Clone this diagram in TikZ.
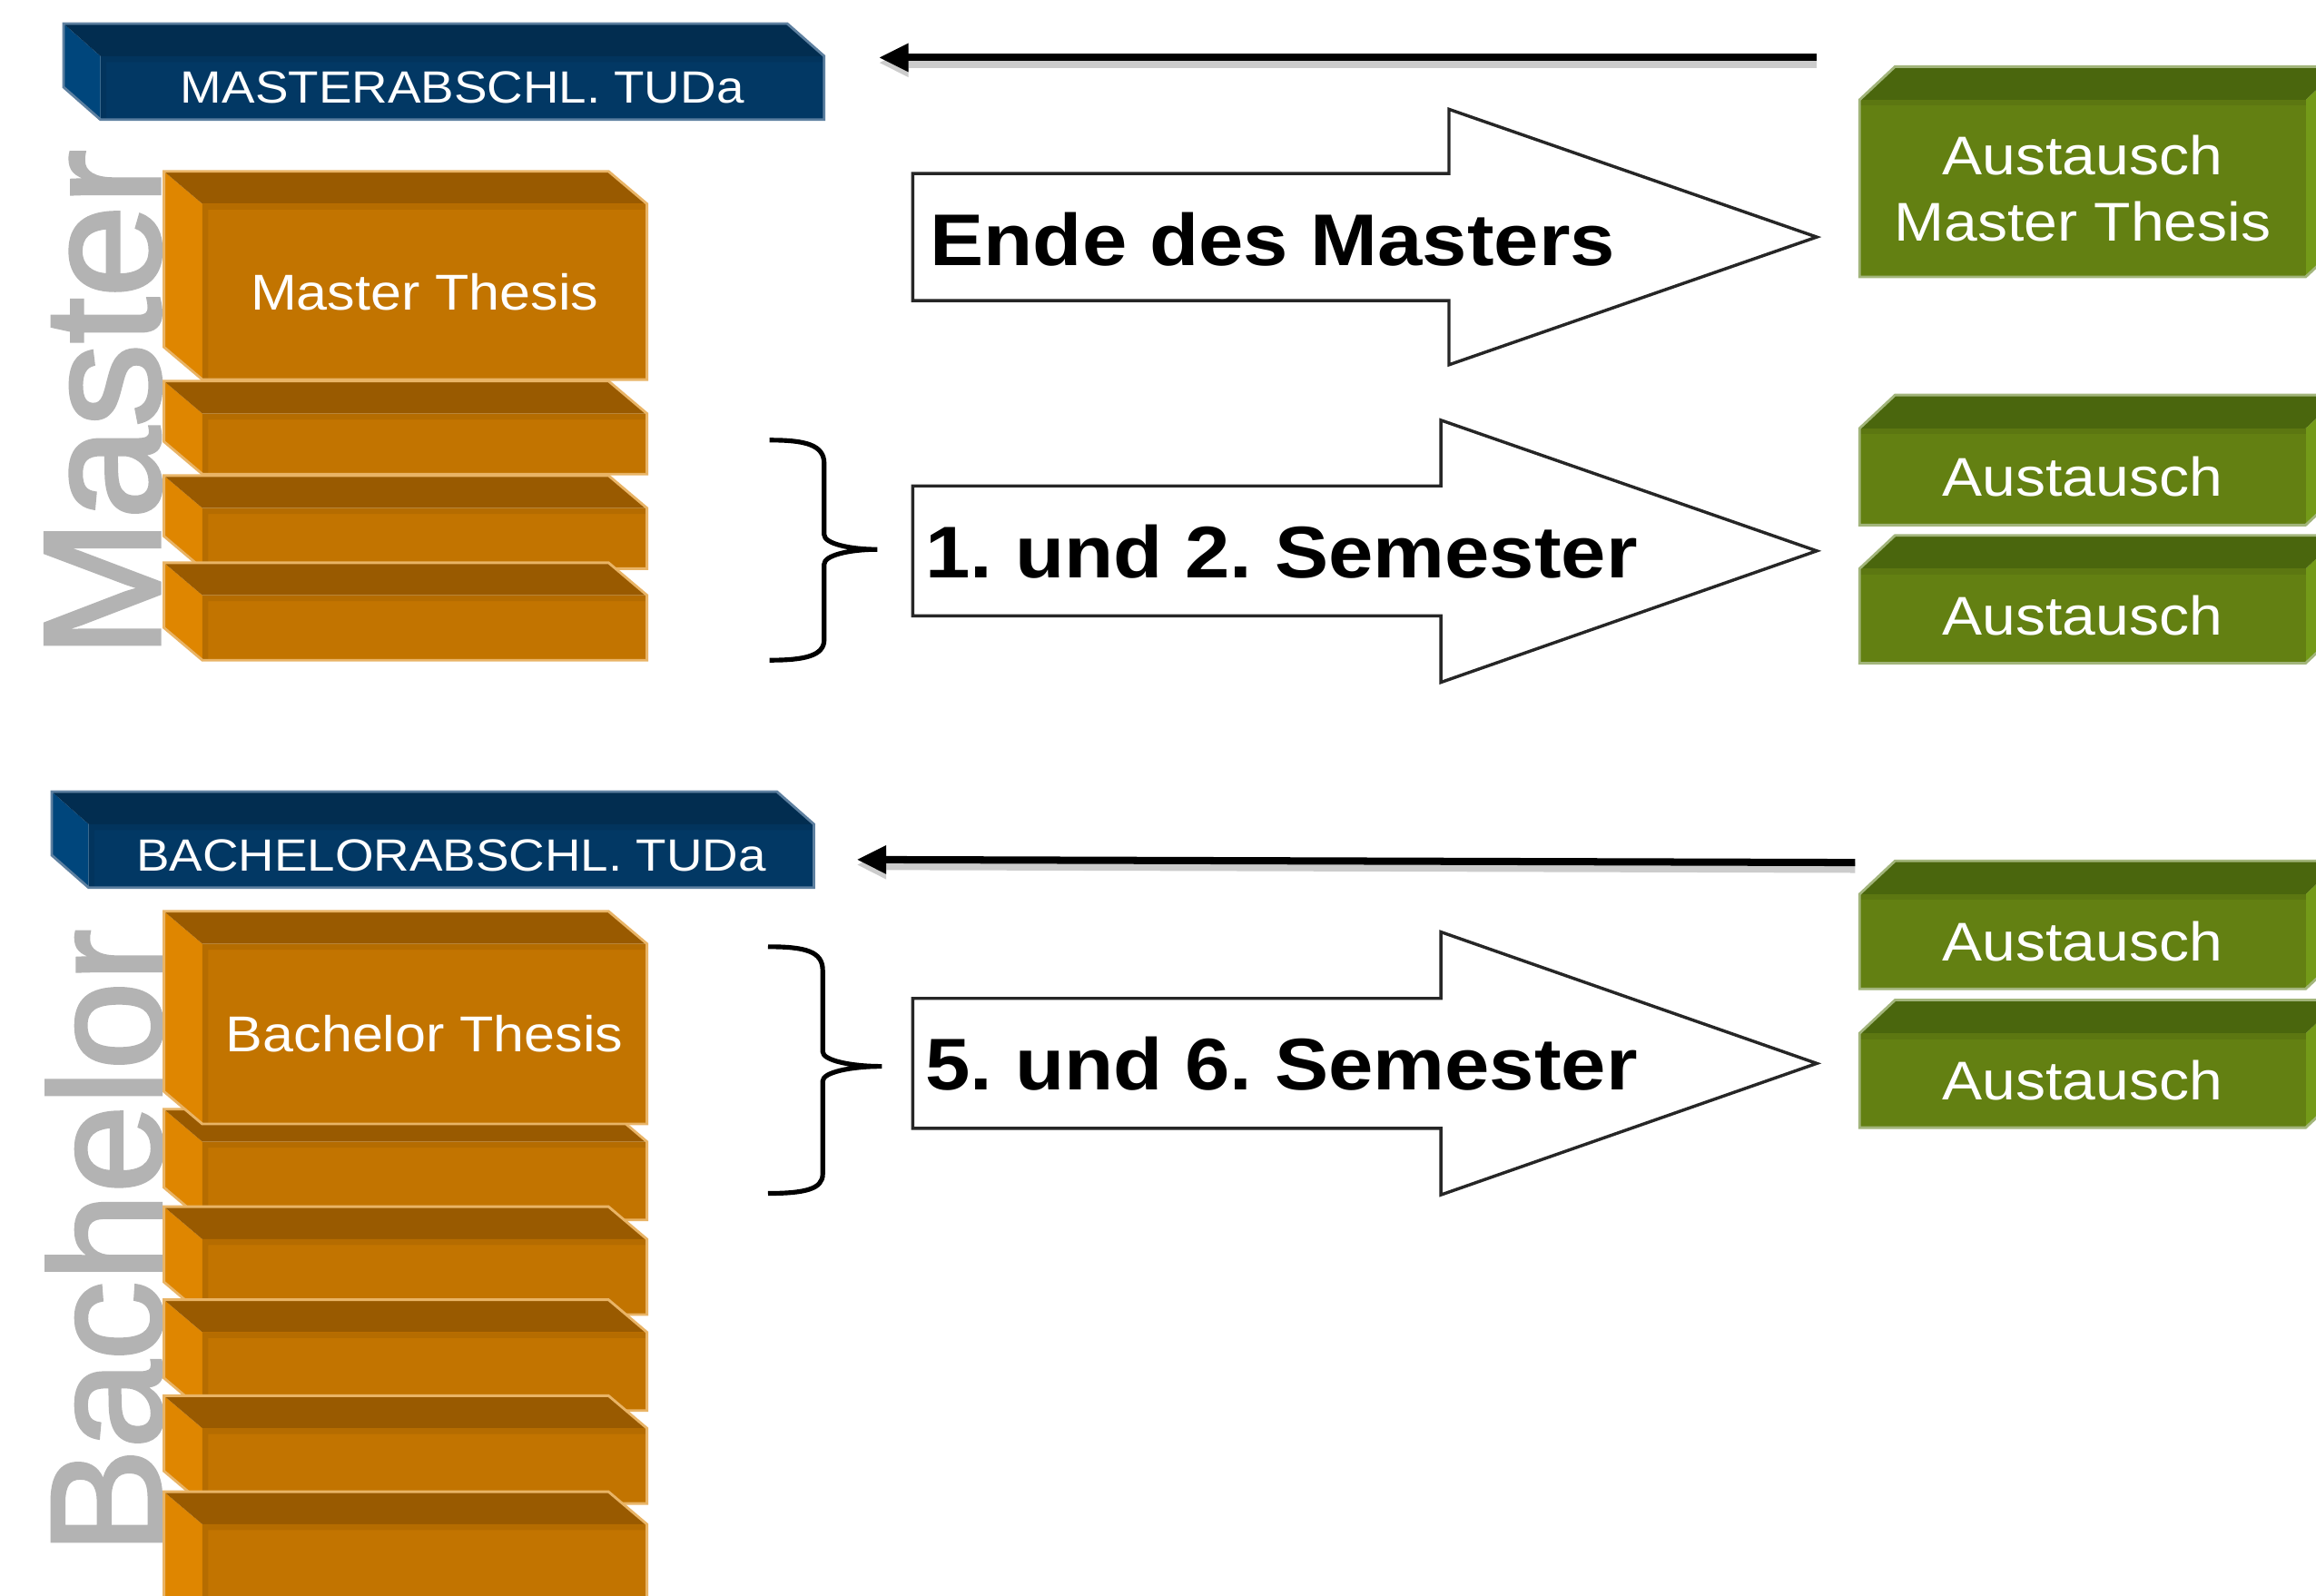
\documentclass[tikz,border=0pt]{standalone}
\usepackage{fontspec}
\setmainfont{Liberation Sans}[FakeStretch=1.1]
\newfontfamily\plainsans{Liberation Sans}[FakeBold=2]
\usetikzlibrary{arrows.meta}
\frenchspacing

\definecolor{bluefront}{HTML}{023864}
\definecolor{bluetop}{HTML}{022D50}
\definecolor{blueside}{HTML}{00467C}
\definecolor{blueedge}{HTML}{5E80A0}
\definecolor{orfront}{HTML}{C27400}
\definecolor{ortop}{HTML}{995A00}
\definecolor{orside}{HTML}{DF8600}
\definecolor{oredge}{HTML}{E9B466}
\definecolor{grfront}{HTML}{638012}
\definecolor{grtop}{HTML}{4A660D}
\definecolor{grside}{HTML}{739A18}
\definecolor{gredge}{HTML}{A2B57B}
\definecolor{labelgray}{HTML}{B3B3B3}

\begin{document}
\begin{tikzpicture}[x=0.01cm,y=-0.01cm]
    \tikzstyle{bluetext}=[text=white,inner sep=0pt,font=\fontsize{8.7}{10}\selectfont]
    \tikzstyle{ortext}=[text=white,inner sep=0pt,font=\fontsize{9.7}{11}\selectfont]
    \tikzstyle{grtext}=[text=white,inner sep=0pt,align=center,font=\fontsize{10.5}{12.6}\selectfont]
    \tikzstyle{semtext}=[anchor=base west,inner sep=0pt,font=\bfseries\fontsize{14.1}{16}\selectfont]
    \tikzstyle{biglabel}=[text=labelgray,rotate=90,anchor=base west,inner sep=0pt]
    \tikzstyle{blockarrow}=[draw=black!85,fill=white,line width=0.6pt,line join=miter]
    \tikzstyle{thinarrow}=[line width=1.4pt,-{Triangle[length=0.2cm,width=0.18cm]},
        preaction={draw=black!20,line width=2pt,transform canvas={yshift=-0.035cm}}]
    \tikzstyle{brace}=[line width=0.9pt]

    % box seen from the upper left: name, x1, y1, x2, y2 (front face), colour, text
    \def\lbox#1#2#3#4#5#6#7{%
        \fill[#6side] (#2-\dpx,#3-\dpy) -- (#2,#3) -- (#2,#5) -- (#2-\dpx,#5-\dpy) -- cycle;
        \fill[#6top] (#2-\dpx,#3-\dpy) -- (#4-\dpx,#3-\dpy) -- (#4,#3) -- (#2,#3) -- cycle;
        \fill[#6front] (#2,#3) rectangle (#4,#5);
        \fill[#6front!93!black] (#2,#3) rectangle (#4,#3+4) (#2,#3) rectangle (#2+4,#5);
        \draw[#6edge,line width=0.5pt] (#2-\dpx,#3-\dpy) -- (#4-\dpx,#3-\dpy) -- (#4,#3)
            -- (#4,#5) -- (#2,#5) -- (#2-\dpx,#5-\dpy) -- cycle;
        \node[#6text] (#1) at ({(#2+#4)/2},{(#3+#5)/2}) {#7};
    }
    % box seen from the upper right
    \def\rbox#1#2#3#4#5#6#7{%
        \fill[#6side] (#4,#3) -- (#4+\dpx,#3-\dpy) -- (#4+\dpx,#5-\dpy) -- (#4,#5) -- cycle;
        \fill[#6top] (#2,#3) -- (#2+\dpx,#3-\dpy) -- (#4+\dpx,#3-\dpy) -- (#4,#3) -- cycle;
        \fill[#6front] (#2,#3) rectangle (#4,#5);
        \fill[#6front!93!black] (#2,#3) rectangle (#4,#3+4);
        \draw[#6edge,line width=0.5pt] (#2,#5) -- (#2,#3) -- (#2+\dpx,#3-\dpy)
            -- (#4+\dpx,#3-\dpy) -- (#4+\dpx,#5-\dpy) -- (#4,#5) -- cycle;
        \node[#6text] (#1) at ({(#2+#4)/2},{(#3+#5)/2}) {#7};
    }

    \useasboundingbox (0,0) rectangle (1568,1080);
    \clip (0,0) rectangle (1568,1080);
    \fill[white] (0,0) rectangle (1568,1080);

    % side labels
    \node[biglabel,font=\plainsans\fontsize{32}{32}\selectfont] (mlabel) at (108,446) {Master};
    \node[biglabel,font=\plainsans\fontsize{30.5}{30.5}\selectfont] (blabel) at (109,1053) {Bachelor};

    % degrees
    \def\dpx{25}
    \def\dpy{22}
    \lbox{mabschl}{68}{38}{558}{81}{blue}{MASTERABSCHL. TUDa}
    \lbox{babschl}{60}{558}{551}{601}{blue}{BACHELORABSCHL. TUDa}

    % master semesters
    \def\dpx{26}
    \lbox{mthesis}{137}{138}{438}{257}{or}{Master Thesis}
    \lbox{msemb}{137}{280}{438}{321}{or}{}
    \lbox{msemc}{137}{344}{438}{385}{or}{}
    \lbox{msemd}{137}{403}{438}{447}{or}{}

    % bachelor semesters
    \lbox{bsemb}{137}{773}{438}{826}{or}{}
    \lbox{bthesis}{137}{639}{438}{761}{or}{Bachelor Thesis}
    \lbox{bsemc}{137}{839}{438}{890}{or}{}
    \lbox{bsemd}{137}{902}{438}{955}{or}{}
    \lbox{bseme}{137}{967}{438}{1018}{or}{}
    \lbox{bsemf}{137}{1032}{438}{1110}{or}{}

    % exchange
    \def\dpx{24}
    \def\dpy{22.5}
    \rbox{xthesis}{1259}{67.6}{1561}{187.5}{gr}{Austausch\\Master Thesis}
    \rbox{xma}{1259}{290}{1561}{355.5}{gr}{Austausch}
    \rbox{xmb}{1259}{385}{1561}{449}{gr}{Austausch}
    \rbox{xba}{1259}{605.4}{1561}{669.5}{gr}{Austausch}
    \rbox{xbb}{1259}{699.6}{1561}{763.5}{gr}{Austausch}

    % big arrows
    \draw[blockarrow] (618,117.5) -- (981,117.5) -- (981,74) -- (1230,160.5)
        -- (981,247) -- (981,203.5) -- (618,203.5) -- cycle;
    \node[semtext] (ende) at (629,180) {Ende des Masters};

    \draw[blockarrow] (618,329) -- (975.5,329) -- (975.5,284.5) -- (1230,373)
        -- (975.5,462) -- (975.5,417) -- (618,417) -- cycle;
    \node[semtext] (msem) at (626,391) {1. und 2. Semester};

    \draw[blockarrow] (618,676) -- (975.5,676) -- (975.5,631) -- (1230,720)
        -- (975.5,809) -- (975.5,764) -- (618,764) -- cycle;
    \node[semtext] (bsem) at (626,738) {5. und 6. Semester};

    % braces
    \draw[brace] (521,298) .. controls (545,298) and (558,301) .. (558,314) -- (558,362)
        .. controls (558,368) and (575,372) .. (594,372)
        .. controls (575,372) and (558,376) .. (558,382) -- (558,433)
        .. controls (558,444) and (545,447) .. (521,447);
    \draw[brace] (520,641) .. controls (545,641) and (557,644) .. (557,657) -- (557,712)
        .. controls (557,718) and (576,722) .. (597,722)
        .. controls (576,722) and (557,726) .. (557,732) -- (557,795)
        .. controls (557,805) and (545,808) .. (520,808);

    % back to the degrees
    \coordinate (mfrom) at (1230,39);
    \coordinate (mto) at (595,39);
    \coordinate (bfrom) at (1256,584);
    \coordinate (bto) at (580,582);
    \draw[thinarrow] (mfrom) -- (mto);
    \draw[thinarrow] (bfrom) -- (bto);
\end{tikzpicture}
\end{document}
